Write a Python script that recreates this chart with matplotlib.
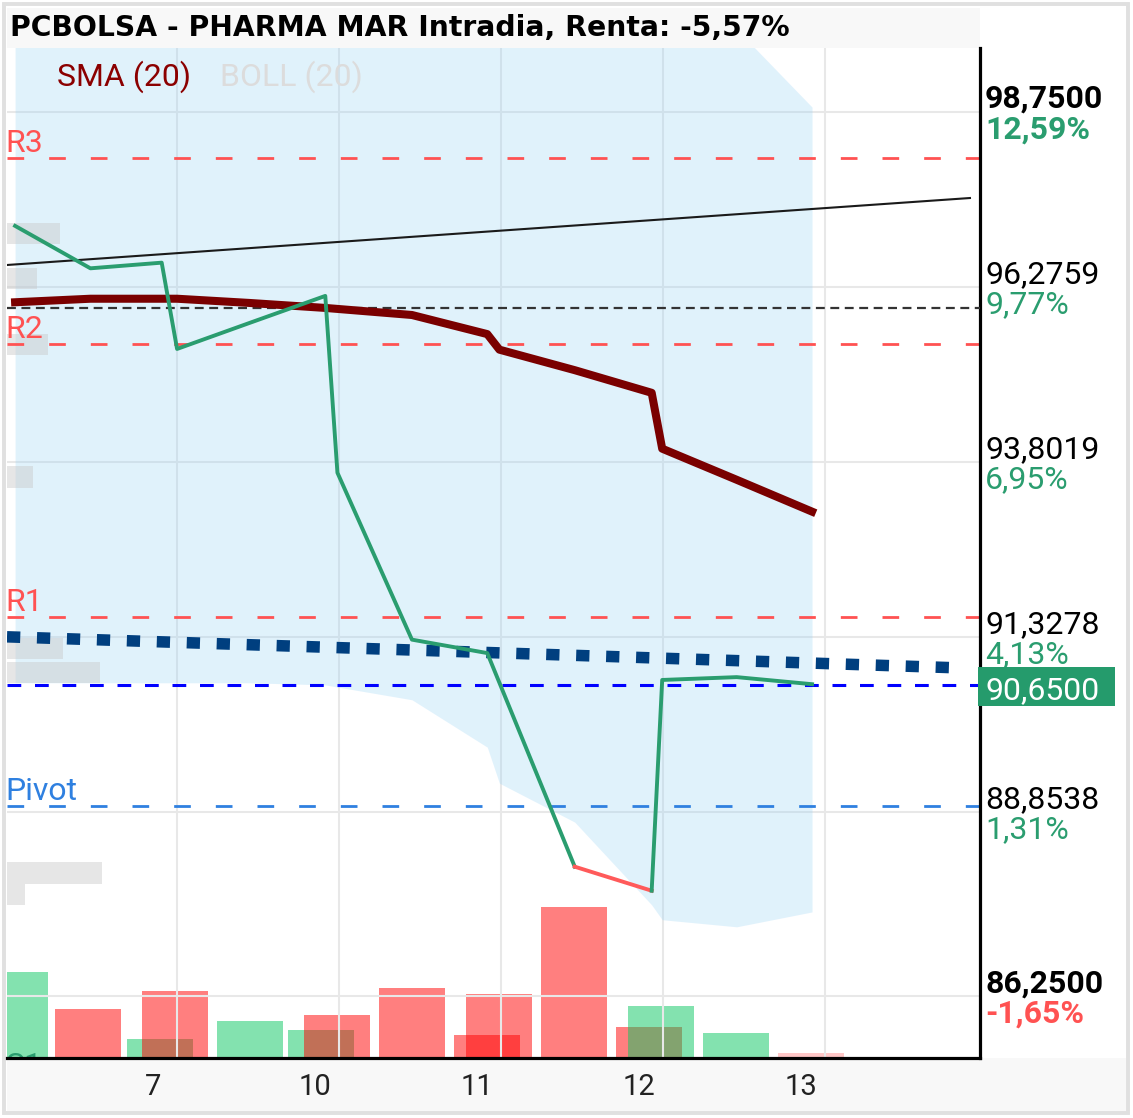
import matplotlib
matplotlib.use("Agg")
import matplotlib.pyplot as plt
from matplotlib.patches import Rectangle
from matplotlib import transforms

plt.rcParams['font.family'] = ['Roboto', 'DejaVu Sans']

#----------Data----------#

# price line (intraday closes), x in half-day slots
price_x = [0, 0.93, 1.81, 2.0, 2.9, 3.83, 3.98, 4.9, 5.83, 6.91, 7.86, 7.99, 8.91, 9.84]
price_y = [97.14, 96.54, 96.62, 95.40, 95.77, 96.15, 93.65, 91.29, 91.10,
           88.08, 87.74, 90.72, 90.76, 90.66]
red_from = 9          # segment 9 -> 10 is drawn red

# SMA (20)
sma_x = [0, 0.93, 1.81, 2.0, 2.9, 3.83, 4.9, 5.83, 5.98, 6.91, 7.86, 7.99, 8.91, 9.84]
sma_y = [96.06, 96.11, 96.11, 96.11, 96.05, 95.98, 95.88, 95.61, 95.39,
         95.10, 94.78, 93.99, 93.55, 93.10]

# BOLL (20)
band_x = [0, 0.93, 1.81, 2.0, 2.9, 3.83, 3.98, 4.9, 5.83, 5.98, 6.91, 7.86, 7.99, 8.91, 9.84]
band_up = [100.6, 100.6, 100.6, 100.6, 100.6, 100.5, 100.5, 100.4, 100.3, 100.3,
           100.2, 100.1, 100.0, 99.92, 98.82]
band_lo = [90.68, 90.68, 90.68, 90.68, 90.68, 90.65, 90.62, 90.44, 89.77, 89.26,
           88.71, 87.54, 87.33, 87.23, 87.44]

# volume
vol_a_x = [0, 0.9, 1.98, 2.9, 3.98, 4.9, 5.98, 6.9, 7.98, 8.9, 9.83]
vol_a = [86, 49, 67, 37, 43, 70, 64, 151, 52, 25, 5]
vol_a_up = [True, False, False, True, False, False, False, False, True, True, False]
vol_b_x = [1.79, 3.78, 5.83, 7.83]
vol_b = [19, 28, 23, 31]
vol_b_up = [True, True, False, False]

# volume by price (left edge)
profile_price = [97.03, 96.40, 95.46, 93.59, 91.17, 90.83, 87.99, 87.69]
profile_vol = [0.65, 0.37, 0.51, 0.32, 0.69, 1.15, 1.17, 0.22]

# pivot levels
level_names = ['R3', 'R2', 'R1', 'Pivot', 'S1']
level_values = [98.10, 95.47, 91.61, 88.94, 85.05]
level_colors = ['#ff5252', '#ff5252', '#ff5252', '#2f80e0', '#2a9d6f']

# other lines
trend_x = [-0.1, 11.79]
trend_y = [96.587, 97.534]
dotted_level = 95.98
blue_sq_x = [-0.1, 11.67]
blue_sq_y = [91.33, 90.89]
last_price = 90.65

# axis
tick_prices = [98.75, 96.2759, 93.8019, 91.3278, 88.8538, 86.25]
tick_text = ['98,7500', '96,2759', '93,8019', '91,3278', '88,8538', '86,2500']
tick_pct = ['12,59%', '9,77%', '6,95%', '4,13%', '1,31%', '-1,65%']
day_ticks = [2, 4, 6, 8, 10]
day_labels = ['7', '10', '11', '12', '13']

title = 'PCBOLSA - PHARMA MAR Intradia, Renta: -5,57%'

#----------Figure----------#
W, H = 1133, 1118
fig = plt.figure(figsize=(W / 100, H / 100), dpi=100)


def box(x0, y0, x1, y1, **kw):
    # rectangle in figure pixels (y from top)
    fig.add_artist(Rectangle((x0 / W, 1 - y1 / H), (x1 - x0) / W, (y1 - y0) / H,
                             transform=fig.transFigure, **kw))


box(7, 8, 980, 48, facecolor='#f8f8f8', edgecolor='none')
box(7, 1058, 1126, 1111, facecolor='#f8f8f8', edgecolor='none')
box(4, 4, 1128, 1113, facecolor='none', edgecolor='#e0e0e0', linewidth=2.8)

rect = [7 / W, 1 - 1058 / H, 973 / W, 1010 / H]
xlim = (-0.1, 11.914)
ylim = (85.375, 99.655)

# volume panel behind
vax = fig.add_axes(rect, zorder=1)
vax.set_xlim(*xlim)
vax.set_ylim(0, 1010)
vax.axis('off')
green_v, red_v = '#09c761', '#ff0000'
vax.bar(vol_b_x, vol_b, width=0.815, color=[green_v if u else red_v for u in vol_b_up],
        alpha=0.5, linewidth=0)
a_alpha = [0.5] * (len(vol_a) - 1) + [0.22]
for x, v, u, al in zip(vol_a_x, vol_a, vol_a_up, a_alpha):
    vax.bar(x, v, width=0.815, color=green_v if u else red_v, alpha=al, linewidth=0)

# price panel
ax = fig.add_axes(rect, zorder=2)
ax.set_facecolor('none')
ax.set_xlim(*xlim)
ax.set_ylim(*ylim)

ax.set_yticks(tick_prices)
ax.set_xticks(day_ticks)
ax.set_yticklabels([])
ax.set_xticklabels([])
ax.tick_params(length=0)
ax.grid(True, color='#e8e8e8', linewidth=1.5, zorder=0)
ax.set_axisbelow(True)
for s in ['top', 'left']:
    ax.spines[s].set_visible(False)
for s in ['right', 'bottom']:
    ax.spines[s].set_color('black')
    ax.spines[s].set_linewidth(2.3)

# bollinger band
ax.fill_between(band_x, band_lo, band_up, color='#9bd4f5', alpha=0.3, linewidth=0, zorder=1)

# volume-by-price blocks
ax.barh(profile_price, profile_vol, height=0.3, left=xlim[0], color='#c8c8c8',
        alpha=0.45, linewidth=0, zorder=1.5)

# pivot levels
left_tr = transforms.blended_transform_factory(ax.transAxes, ax.transData) + \
    transforms.ScaledTranslation(-0.015, 0, fig.dpi_scale_trans)
for name, val, col in zip(level_names, level_values, level_colors):
    ax.axhline(val, color=col, linewidth=2, dashes=(6, 9), zorder=2)
    ax.text(0.0, val, name, color=col, fontsize=23, va='bottom', ha='left',
            transform=left_tr, clip_on=True, zorder=2)

ax.axhline(last_price, color='#0000ff', linewidth=2.2, dashes=(4.5, 4.5), zorder=2)
ax.axhline(dotted_level, color='#333333', linewidth=1.6, dashes=(4, 2.5), zorder=3)
ax.plot(trend_x, trend_y, color='#1a1a1a', linewidth=1.5, zorder=3)
ax.plot(blue_sq_x, blue_sq_y, color='#003f7f', linewidth=8.3, dashes=(1.15, 1.45),
        dash_capstyle='butt', zorder=3)

# SMA
ax.plot(sma_x, sma_y, color='#7a0000', linewidth=5.8, solid_joinstyle='round', zorder=4)

# price
ax.plot(price_x[:red_from + 1], price_y[:red_from + 1], color='#2a9d6f', linewidth=2.8, zorder=5)
ax.plot(price_x[red_from:red_from + 2], price_y[red_from:red_from + 2], color='#ff5a5a',
        linewidth=2.8, zorder=5)
ax.plot(price_x[red_from + 1:], price_y[red_from + 1:], color='#2a9d6f', linewidth=2.8, zorder=5)

#----------Labels----------#
right_tr = transforms.blended_transform_factory(ax.transAxes, ax.transData)
xr = (985 - 7) / 973
for p, t, pc in zip(tick_prices, tick_text, tick_pct):
    bold = p in (tick_prices[0], tick_prices[-1])
    off_up = right_tr + transforms.ScaledTranslation(0, 0.04, fig.dpi_scale_trans)
    off_dn = right_tr + transforms.ScaledTranslation(0, -0.265, fig.dpi_scale_trans)
    ax.text(xr, p, t, transform=off_up, fontsize=23, va='baseline', ha='left',
            color='black', fontweight='bold' if bold else 'normal', clip_on=False)
    ax.text(xr, p, pc, transform=off_dn, fontsize=23, va='baseline', ha='left',
            color='#ff5252' if pc.startswith('-') else '#2a9d6f',
            fontweight='bold' if bold else 'normal', clip_on=False)

# last price box
ax.add_patch(Rectangle((0.998, last_price - 0.30), 0.1405, 0.55, transform=right_tr,
                       facecolor='#259b6c', edgecolor='none', clip_on=False, zorder=6))
ax.text(xr, last_price, '90,6500', fontsize=23, color='white', va='baseline', ha='left',
        transform=right_tr + transforms.ScaledTranslation(0, -0.145, fig.dpi_scale_trans),
        clip_on=False, zorder=7)

# day labels
bot_tr = transforms.blended_transform_factory(ax.transData, ax.transAxes)
for d, lab in zip(day_ticks, day_labels):
    ax.text(d - 0.3, 0, lab, fontsize=21, color='#222222', ha='center', va='center',
            transform=bot_tr + transforms.ScaledTranslation(0, -0.29, fig.dpi_scale_trans),
            clip_on=False)

# title and legend
fig.text(10 / W, 1 - 28 / H, title, fontsize=20.3, fontweight='bold', family=['DejaVu Sans'],
         va='center', ha='left', color='black')
fig.text(57 / W, 1 - 77 / H, 'SMA (20)', fontsize=23, color='#8b0000', va='center', ha='left')
fig.text(220 / W, 1 - 77 / H, 'BOLL (20)', fontsize=23, color='#dcdcdc', va='center', ha='left')

fig.savefig('out.png', dpi=100, facecolor='white')
